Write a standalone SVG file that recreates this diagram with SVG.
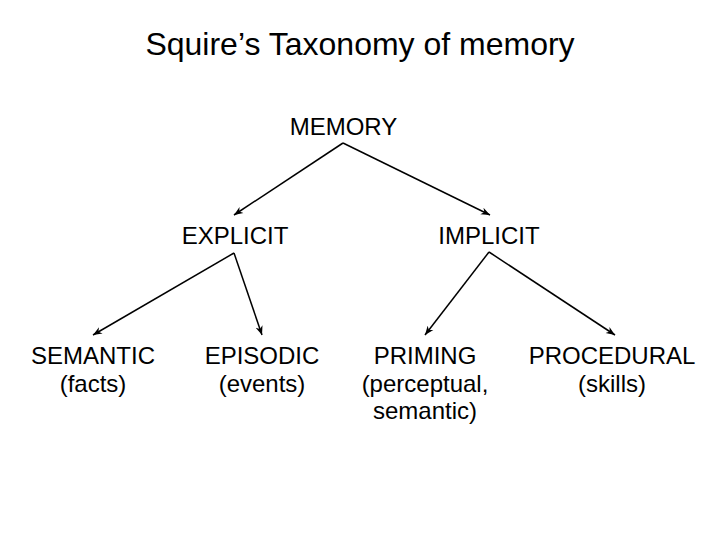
<svg xmlns="http://www.w3.org/2000/svg" width="720" height="540" viewBox="0 0 720 540">
<defs>
<marker id="ah" viewBox="0 0 10 10" refX="10" refY="5" markerWidth="9" markerHeight="9" markerUnits="userSpaceOnUse" orient="auto">
<path d="M0,1 L10,5 L0,9 L3,5 Z" fill="#000"/>
</marker>
<style>
text{font-family:"Liberation Sans",Arial,sans-serif;fill:#000;text-anchor:middle;font-size:24px}
.title{font-size:32px}
.c line{stroke:#000;stroke-width:1.5;marker-end:url(#ah)}
</style>
</defs>
<rect width="720" height="540" fill="#fff"/>
<text class="title" x="360" y="55">Squire’s Taxonomy of memory</text>
<g id="memory"><text x="343.5" y="135">MEMORY</text></g>
<g id="explicit"><text x="235" y="244">EXPLICIT</text></g>
<g id="implicit"><text x="489" y="244">IMPLICIT</text></g>
<g id="semantic"><text x="93" y="364">SEMANTIC</text><text x="93" y="391.5">(facts)</text></g>
<g id="episodic"><text x="262" y="364">EPISODIC</text><text x="262" y="391.5">(events)</text></g>
<g id="priming"><text x="425" y="364">PRIMING</text><text x="425" y="391.5">(perceptual,</text><text x="425" y="419">semantic)</text></g>
<g id="procedural"><text x="612" y="364">PROCEDURAL</text><text x="612" y="391.5">(skills)</text></g>
<g class="c" id="connectors">
<line x1="343" y1="143" x2="234" y2="215"/>
<line x1="343" y1="143" x2="490" y2="215"/>
<line x1="234" y1="253" x2="93" y2="335"/>
<line x1="234" y1="253" x2="262" y2="335"/>
<line x1="489" y1="252" x2="425" y2="335"/>
<line x1="489" y1="252" x2="615" y2="335"/>
</g>
</svg>
